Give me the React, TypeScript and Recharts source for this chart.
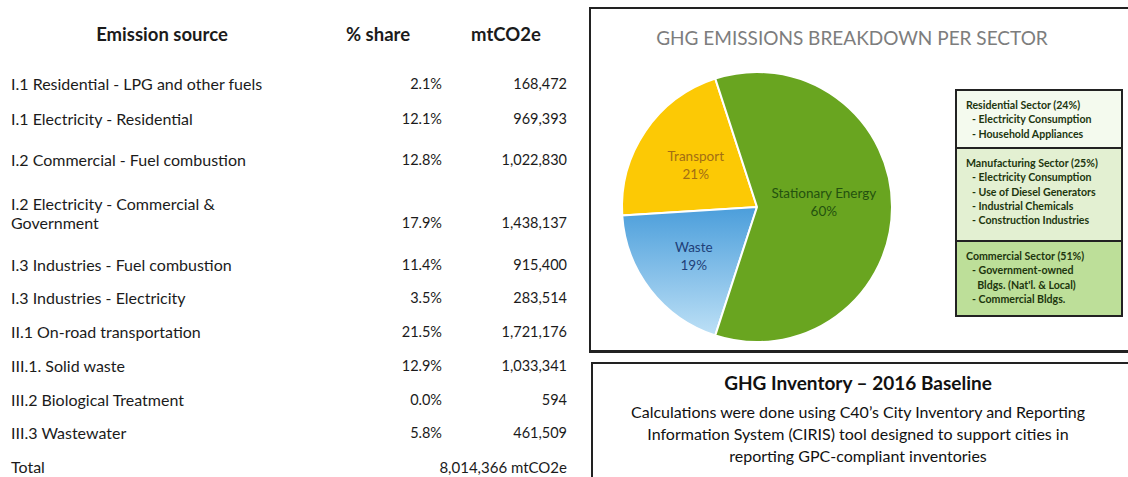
import React from 'react';
import { PieChart, Pie, Cell } from 'recharts';

// ---------- data ----------
const sources = [
  'I.1 Residential - LPG and other fuels',
  'I.1 Electricity - Residential',
  'I.2 Commercial - Fuel combustion',
  'I.2 Electricity - Commercial &\nGovernment',
  'I.3 Industries - Fuel combustion',
  'I.3 Industries - Electricity',
  'II.1 On-road transportation',
  'III.1. Solid waste',
  'III.2 Biological Treatment',
  'III.3 Wastewater',
];
const shares = ['2.1%', '12.1%', '12.8%', '17.9%', '11.4%', '3.5%', '21.5%', '12.9%', '0.0%', '5.8%'];
const emissions = ['168,472', '969,393', '1,022,830', '1,438,137', '915,400', '283,514', '1,721,176', '1,033,341', '594', '461,509'];
const headers = ['Emission source', '% share', 'mtCO2e'];
const totalLabel = 'Total';
const totalValue = '8,014,366 mtCO2e';

const sectorNames = ['Transport', 'Waste', 'Stationary Energy'];
const sectorShares = [21, 19, 60];
const chartTitle = 'GHG EMISSIONS BREAKDOWN PER SECTOR';

const legendTitles = ['Residential Sector (24%)', 'Manufacturing Sector (25%)', 'Commercial Sector (51%)'];
const legendItems = [
  ['- Electricity Consumption', '- Household Appliances'],
  ['- Electricity Consumption', '- Use of Diesel Generators', '- Industrial Chemicals', '- Construction Industries'],
  ['- Government-owned', '  Bldgs. (Nat\'l. & Local)', '- Commercial Bldgs.'],
];

const noteTitle = 'GHG Inventory \u2013 2016 Baseline';
const noteLines = [
  'Calculations were done using C40\u2019s City Inventory and Reporting',
  'Information System (CIRIS) tool designed to support cities in',
  'reporting GPC-compliant inventories',
];

// ---------- styles ----------
const FONT = 'Lato, "Open Sans", sans-serif';
const rowY = [84, 119, 160, 223, 265, 298, 332, 366, 400, 433];
const rowLineGap = 19;
const sliceColors = ['#FCC905', 'url(#wasteGrad)', '#69A520'];
const labelColors = ['#A36E14', '#1E3F78', '#24520F'];
const labelRadius = [74, 80, 67];
const labelAngleShift = [0, 0, 4];
const legendHeights = [56, 93, 75];
const legendFills = ['#F4FAEE', '#E3F0D2', '#BDDF99'];

const pieData = sectorNames.map((name, i) => ({ name, value: sectorShares[i] }));
const RAD = Math.PI / 180;

const renderLabel = (props: any) => {
  const { cx, cy, midAngle, index, value, name } = props;
  const a = (midAngle + labelAngleShift[index]) * RAD;
  const r = labelRadius[index];
  const x = cx + r * Math.cos(a);
  const y = cy - r * Math.sin(a);
  return (
    <text x={x} y={y} textAnchor="middle" fill={labelColors[index]} fontFamily={FONT} fontSize={13.5}>
      <tspan x={x} dy={-4}>{name}</tspan>
      <tspan x={x} dy={18}>{value}%</tspan>
    </text>
  );
};

export default function App() {
  const lh = 22;
  const hdr = { position: 'absolute' as const, top: 34 - 12, width: 200, textAlign: 'center' as const, fontWeight: 700, fontSize: 18.5, lineHeight: '24px' };
  return (
    <div style={{ position: 'absolute', left: 0, top: 0, width: 1128, height: 477, background: '#fff', overflow: 'hidden', fontFamily: FONT, color: '#1b1b1b' }}>
      {/* table header */}
      <div style={{ ...hdr, left: 162 - 100 }}>{headers[0]}</div>
      <div style={{ ...hdr, left: 378 - 100 }}>{headers[1]}</div>
      <div style={{ ...hdr, left: 506 - 100 }}>{headers[2]}</div>

      {sources.map((s, i) => {
        const lines = s.split('\n');
        return (
          <React.Fragment key={i}>
            <div style={{ position: 'absolute', left: 11, top: rowY[i] - lh / 2 - (lines.length - 1) * rowLineGap, fontSize: 16, lineHeight: lh + 'px', whiteSpace: 'pre' }}>
              {lines.map((l, j) => <div key={j} style={{ height: j < lines.length - 1 ? rowLineGap : lh }}>{l}</div>)}
            </div>
            <div style={{ position: 'absolute', right: 1128 - 442, top: rowY[i] - lh / 2, fontSize: 14.5, lineHeight: lh + 'px', textAlign: 'right' }}>{shares[i]}</div>
            <div style={{ position: 'absolute', right: 1128 - 567, top: rowY[i] - lh / 2, fontSize: 14.5, lineHeight: lh + 'px', textAlign: 'right' }}>{emissions[i]}</div>
          </React.Fragment>
        );
      })}
      <div style={{ position: 'absolute', left: 11, top: 467 - lh / 2, fontSize: 16, lineHeight: lh + 'px' }}>{totalLabel}</div>
      <div style={{ position: 'absolute', right: 1128 - 567, top: 467 - lh / 2, fontSize: 15, lineHeight: lh + 'px' }}>{totalValue}</div>

      {/* chart box */}
      <div style={{ position: 'absolute', left: 589, top: 7, width: 580, height: 341, borderTop: '2px solid #222', borderLeft: '2px solid #222', borderBottom: '3px solid #222', boxSizing: 'content-box' }} />
      <div style={{ position: 'absolute', left: 591, top: 26, width: 522, textAlign: 'center', color: '#7d7d7d', fontSize: 19, lineHeight: '24px' }}>{chartTitle}</div>

      <div style={{ position: 'absolute', left: 590, top: 8 }}>
        <PieChart width={360} height={342}>
          <defs>
            <linearGradient id="wasteGrad" x1="0" y1="0" x2="0" y2="1">
              <stop offset="0%" stopColor="#4B9EDB" />
              <stop offset="100%" stopColor="#BDE0F6" />
            </linearGradient>
          </defs>
          <Pie
            data={pieData}
            dataKey="value"
            nameKey="name"
            cx={162}
            cy={194}
            outerRadius={135}
            startAngle={108}
            endAngle={468}
            stroke="#ffffff"
            strokeWidth={2}
            label={renderLabel}
            labelLine={false}
            isAnimationActive={false}
          >
            {pieData.map((d, i) => <Cell key={d.name} fill={sliceColors[i]} />)}
          </Pie>
        </PieChart>
      </div>

      {/* legend boxes */}
      <div style={{ position: 'absolute', left: 955, top: 89, width: 168, border: '2px solid #222', boxSizing: 'border-box' }}>
        {legendTitles.map((t, i) => (
          <div key={i} style={{ height: legendHeights[i], background: legendFills[i], borderTop: i > 0 ? '2px solid #222' : 'none', boxSizing: 'border-box', padding: '7px 0 0 9px', fontSize: 10.6, fontWeight: 700, lineHeight: '14.3px', color: '#1d360e', whiteSpace: 'pre' }}>
            <div>{t}</div>
            {legendItems[i].map((it, j) => <div key={j} style={{ paddingLeft: 6 }}>{it}</div>)}
          </div>
        ))}
      </div>

      {/* note box */}
      <div style={{ position: 'absolute', left: 591, top: 362, width: 580, height: 140, borderTop: '2px solid #222', borderLeft: '2px solid #222' }} />
      <div style={{ position: 'absolute', left: 593, top: 371, width: 530, textAlign: 'center', fontWeight: 700, fontSize: 19, lineHeight: '24px', color: '#111' }}>{noteTitle}</div>
      {noteLines.map((l, i) => (
        <div key={i} style={{ position: 'absolute', left: 593, top: 401 + i * 22, width: 530, textAlign: 'center', fontSize: 16, lineHeight: '22px', color: '#111' }}>{l}</div>
      ))}
    </div>
  );
}
